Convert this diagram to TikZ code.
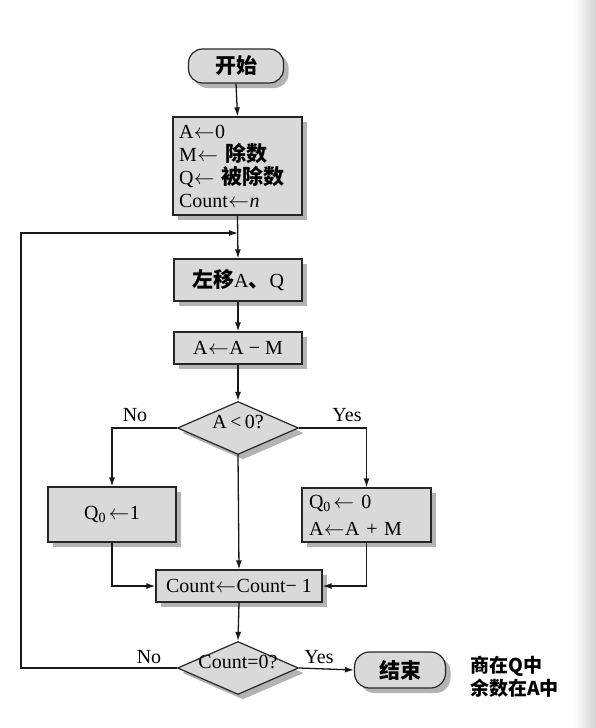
\documentclass[tikz,border=0pt]{standalone}
\usepackage{fontspec}
\setmainfont{Liberation Serif}
\newfontfamily\cjk{Noto Sans CJK SC}
\usetikzlibrary{shapes.geometric,shadows,arrows.meta,calc}
\newcommand{\zh}[1]{{\cjk\bfseries\fontsize{21}{23}\selectfont #1}}
\newcommand{\larr}{\kern0.5pt$\leftarrow$\kern0.5pt}
\begin{document}
\begin{tikzpicture}[x=1pt,y=-1pt,
  font=\fontsize{20}{23}\selectfont,
  shd/.style={drop shadow={shadow xshift=5pt,shadow yshift=-5pt,fill=black!50,opacity=0.6}},
  procbox/.style={draw=black!85,line width=1.2pt,fill=gray!30,shd,inner sep=0pt},
  termbox/.style={procbox,rounded corners=14pt},
  decbox/.style={procbox,diamond,shape aspect=2.3},
  arr/.style={line width=1.3pt,draw=black!90,-{Latex[length=9pt,width=6pt]}},
  lbl/.style={inner sep=0pt}]
\useasboundingbox (0,0) rectangle (596,728);
\shade[left color=white,right color=gray!35] (574,0) rectangle (596,728);

\node[termbox,minimum width=95pt,minimum height=34pt] (start) at (236,66) {\zh{开始}};
\node[procbox,minimum width=129pt,minimum height=98pt,text width=117pt,align=left] (init) at (237.5,166)
  {A\larr0\\M\larr\ \zh{除数}\\Q\larr\ \zh{被除数}\\Count\larr\textit{n}};
\node[procbox,minimum width=128pt,minimum height=42pt] (shl) at (238,280) {\zh{左移}A\zh{、}Q};
\node[procbox,minimum width=128pt,minimum height=32pt] (sub) at (238,348) {A\larr A − M};
\node[decbox,minimum width=121pt,minimum height=53pt] (d1) at (238,428) {\makebox[0pt]{\smash{A\,<\,0?}}};
\node[procbox,minimum width=128pt,minimum height=55pt] (q1) at (112,514.5) {Q\textsubscript{0}\kern2pt\larr1};
\node[procbox,minimum width=129pt,minimum height=54pt,text width=115pt,align=left] (q0) at (366.5,515)
  {Q\textsubscript{0}\kern2pt\larr\ 0\\[4pt]A\larr A + M};
\node[procbox,minimum width=166pt,minimum height=32pt] (cnt) at (239,586) {Count\larr Count− 1};
\node[decbox,minimum width=121pt,minimum height=53pt] (d2) at (238,668) {\makebox[0pt]{\smash{Count=0?}}};
\node[termbox,minimum width=91pt,minimum height=36pt,rounded corners=15pt] (end) at (400,670) {\zh{结束}};
\node[lbl,anchor=west,align=left,font=\cjk\bfseries\fontsize{19}{23}\selectfont] (note) at (470,677) {商在Q中\\余数在A中};

\coordinate (j) at (238,233);
\coordinate (lc) at (21,668);

\draw[arr] (start.south) -- (init.north);
\draw[arr] (init.south) -- (shl.north);
\draw[arr] (shl.south) -- (sub.north);
\draw[arr] (sub.south) -- (d1.north);
\draw[arr] (d1.west) -| (q1.north);
\draw[arr] (d1.east) -| (q0.north);
\draw[arr] (d1.south) -- (cnt.north);
\draw[arr] (q1.south) |- (cnt.west);
\draw[arr] (q0.south) |- (cnt.east);
\draw[arr] (cnt.south) -- (d2.north);
\draw[arr] (d2.east) -- (end.west);
\draw[arr] (d2.west) -- (lc) |- (j);

\node[lbl] (no1) at (135,415) {No};
\node[lbl] (yes1) at (347,415) {Yes};
\node[lbl] (no2) at (149,657) {No};
\node[lbl] (yes2) at (319,657) {Yes};
\end{tikzpicture}
\end{document}
